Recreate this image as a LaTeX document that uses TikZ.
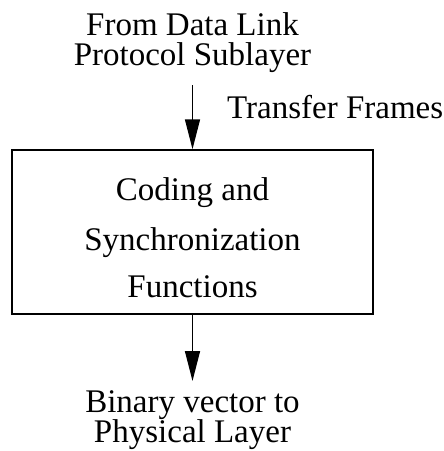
\documentclass[tikz,border=0pt]{standalone}
\usepackage{fontspec}
\setmainfont{Liberation Serif}
\usetikzlibrary{arrows.meta}
\begin{document}
\begin{tikzpicture}[x=1pt,y=-1pt,
  lbl/.style={font=\fontsize{33}{33}\selectfont, inner sep=0pt, anchor=base},
  arr/.style={line width=1.5pt, -{Triangle[length=30pt,width=15pt]}},
  boxst/.style={draw, line width=1.5pt, minimum width=361pt, minimum height=164pt, inner sep=0pt}]
\useasboundingbox (0,0) rectangle (444,451);
\node[boxst] (box) at (192.5,232) {};
\node[lbl] (t1) at (192.5,35) {From Data Link};
\node[lbl] (t2) at (192.5,65) {Protocol Sublayer};
\node[lbl, anchor=base west] (tf) at (227,118) {Transfer Frames};
\node[lbl] (c1) at (192.5,200) {Coding and};
\node[lbl] (c2) at (192.5,250) {Synchronization};
\node[lbl] (c3) at (192.5,297) {Functions};
\node[lbl] (b1) at (192.5,412) {Binary vector to};
\node[lbl] (b2) at (192.5,442) {Physical Layer};
\coordinate (topin) at (192.5,85);
\coordinate (botout) at (192.5,381);
\draw[arr] (topin) -- (box.north);
\draw[arr] (box.south) -- (botout);
\end{tikzpicture}
\end{document}
